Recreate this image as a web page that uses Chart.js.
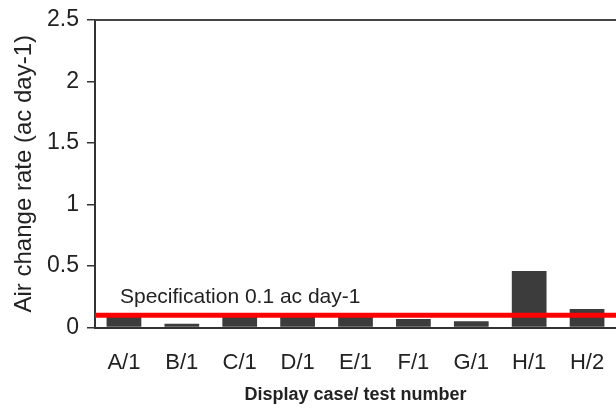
<!DOCTYPE html>
<html>
<head>
<meta charset="utf-8">
<script src="https://cdn.jsdelivr.net/npm/chart.js@4/dist/chart.umd.min.js"></script>
<style>
  html,body{margin:0;padding:0;background:#fff;}
  #wrap{width:616px;height:409px;}
</style>
</head>
<body>
<div id="wrap"><canvas id="c" width="616" height="409"></canvas></div>
<script>
const categories = ['A/1','B/1','C/1','D/1','E/1','F/1','G/1','H/1','H/2'];
const airChangeRates = [0.10, 0.03, 0.10, 0.10, 0.10, 0.07, 0.05, 0.46, 0.15];
const yTickLabels = ['0','0.5','1','1.5','2','2.5'];
const specValue = 0.1;
const specLabel = 'Specification 0.1 ac day-1';
const yTitle = 'Air change rate (ac day-1)';
const xTitle = 'Display case/ test number';

const FONT = '"Liberation Sans", Arial, sans-serif';

const overlay = {
  id: 'overlay',
  afterDatasetsDraw(chart) {
    const {ctx, chartArea, scales} = chart;
    ctx.save();
    // top frame line
    ctx.strokeStyle = '#444';
    ctx.lineWidth = 2;
    ctx.beginPath();
    ctx.moveTo(chartArea.left, chartArea.top);
    ctx.lineTo(chartArea.right, chartArea.top);
    ctx.stroke();
    // specification line
    const y = scales.y.getPixelForValue(specValue);
    ctx.strokeStyle = '#ff0000';
    ctx.lineWidth = 5;
    ctx.beginPath();
    ctx.moveTo(chartArea.left, y);
    ctx.lineTo(chartArea.right, y);
    ctx.stroke();
    // label
    ctx.fillStyle = '#222';
    ctx.font = '21px ' + FONT;
    ctx.textAlign = 'left';
    ctx.textBaseline = 'alphabetic';
    ctx.fillText(specLabel, chartArea.left + 25, y - 12);
    ctx.restore();
  }
};

new Chart(document.getElementById('c'), {
  type: 'bar',
  data: {
    labels: categories,
    datasets: [{
      data: airChangeRates,
      backgroundColor: '#3c3c3c',
      borderWidth: 0,
      categoryPercentage: 1,
      barPercentage: 0.6
    }]
  },
  options: {
    responsive: false,
    animation: false,
    devicePixelRatio: 1,
    layout: {padding: {top: 20, right: 0, left: 0, bottom: 0}},
    plugins: {legend: {display: false}, tooltip: {enabled: false}},
    scales: {
      x: {
        grid: {display: false, drawTicks: false},
        border: {display: true, color: '#333', width: 2},
        ticks: {color: '#222', font: {family: FONT, size: 22}, padding: 22, maxRotation: 0, autoSkip: false},
        title: {display: true, text: xTitle, color: '#222', font: {family: FONT, size: 18, weight: 'bold'}, padding: {top: 0, bottom: 3}},
        afterFit(s) { s.height = 81.5; s.paddingLeft = 0; s.paddingRight = 0; }
      },
      y: {
        min: 0, max: 2.5,
        ticks: {stepSize: 0.5, color: '#222', font: {family: FONT, size: 23}, padding: 8,
          callback: (v, i) => yTickLabels[i]},
        grid: {drawOnChartArea: false, drawTicks: true, tickLength: 8, tickColor: '#333', lineWidth: 1.5},
        border: {display: true, color: '#333', width: 2},
        title: {display: true, text: yTitle, color: '#222', font: {family: FONT, size: 24}, padding: {top: 10, bottom: 0}},
        afterFit(s) { s.width = 95; s.paddingTop = 0; s.paddingBottom = 0; }
      }
    }
  },
  plugins: [overlay]
});
</script>
</body>
</html>
